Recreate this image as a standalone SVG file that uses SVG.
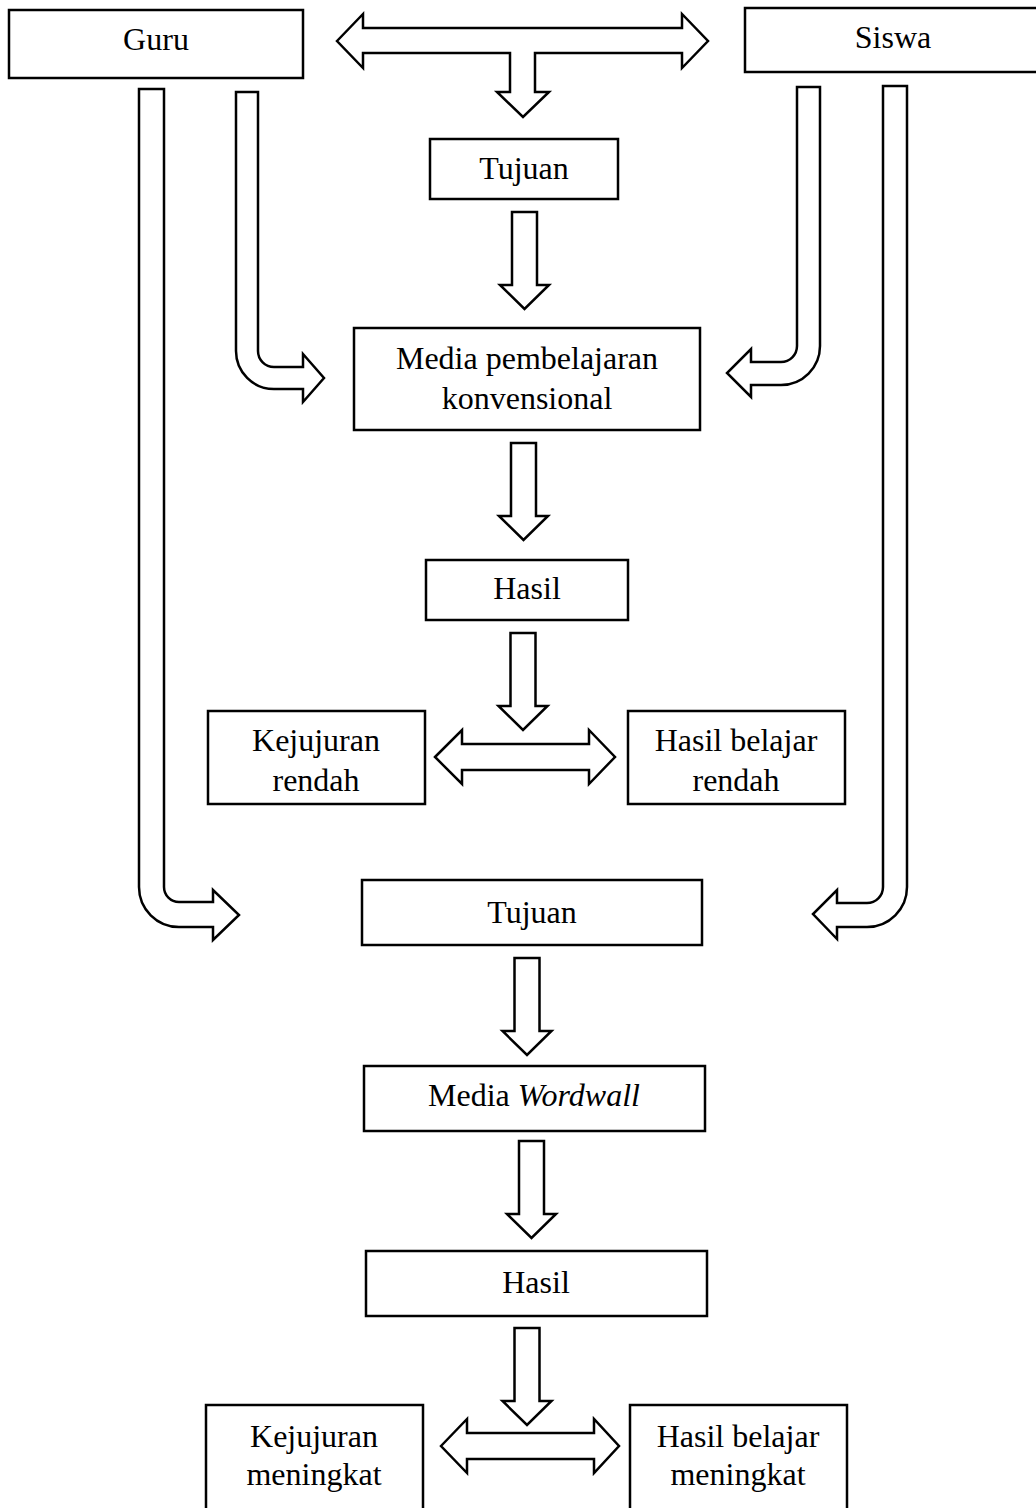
<svg xmlns="http://www.w3.org/2000/svg" width="1036" height="1508" viewBox="0 0 1036 1508">
<style>
.box{fill:#fff;stroke:#000;stroke-width:2.5}
.arr{fill:#fff;stroke:#000;stroke-width:2.5;stroke-linejoin:miter}
text{font-family:"Liberation Serif","Times New Roman",serif;font-size:32px;fill:#000;text-anchor:middle}
</style>
<defs>
<path id="down" d="M-12.5,0 H12.5 V73 H24.5 L0,97 L-24.5,73 H-12.5 Z"/>
</defs>
<rect width="1036" height="1508" fill="#fff"/>
<g id="connectors">
<path class="arr" d="M337,41 L363,14 L363,28 L682,28 L682,14 L708,41 L682,68 L682,53 L535,53 L535,92 L549,92 L523,117 L497,92 L510,92 L510,53 L363,53 L363,68 Z"/>
<path class="arr" d="M236,92 L258,92 L258,351 A16,16 0 0 0 274,367 L303,367 L303,354 L324,378 L303,402 L303,389 L274,389 A38,38 0 0 1 236,351 Z"/>
<path class="arr" d="M139,89 L164,89 L164,887 A15,15 0 0 0 179,902 L213,902 L213,890 L239,915 L213,940 L213,927 L179,927 A40,40 0 0 1 139,887 Z"/>
<path class="arr" d="M797,87 L820,87 L820,346 A39,39 0 0 1 781,385 L751,385 L751,397 L727,373 L751,349 L751,362 L781,362 A16,16 0 0 0 797,346 Z"/>
<path class="arr" d="M883,86 L907,86 L907,887 A40,40 0 0 1 867,927 L837,927 L837,939 L813,914 L837,890 L837,903 L867,903 A16,16 0 0 0 883,887 Z"/>
<use href="#down" class="arr" x="524.5" y="212"/>
<use href="#down" class="arr" x="523.5" y="443"/>
<use href="#down" class="arr" x="523" y="633"/>
<use href="#down" class="arr" x="527" y="958"/>
<use href="#down" class="arr" x="531.5" y="1141"/>
<use href="#down" class="arr" x="527" y="1328"/>
<path class="arr" d="M435,757 L462,730 L462,744 L589,744 L589,730 L615,757 L589,784 L589,770 L462,770 L462,784 Z"/>
<path class="arr" d="M441,1446 L467,1419 L467,1433 L594,1433 L594,1419 L619,1446 L594,1473 L594,1459 L467,1459 L467,1473 Z"/>
</g>
<g id="guru"><rect class="box" x="9" y="10" width="294" height="68"/><text x="156" y="50">Guru</text></g>
<g id="siswa"><rect class="box" x="745" y="8" width="296" height="64"/><text x="893" y="48">Siswa</text></g>
<g id="tujuan1"><rect class="box" x="430" y="139" width="188" height="60"/><text x="524" y="179">Tujuan</text></g>
<g id="media1"><rect class="box" x="354" y="328" width="346" height="102"/><text x="527" y="369">Media pembelajaran</text><text x="527" y="409">konvensional</text></g>
<g id="hasil1"><rect class="box" x="426" y="560" width="202" height="60"/><text x="527" y="599">Hasil</text></g>
<g id="kejujuran1"><rect class="box" x="208" y="711" width="217" height="93"/><text x="316" y="751">Kejujuran</text><text x="316" y="791">rendah</text></g>
<g id="hasilbelajar1"><rect class="box" x="628" y="711" width="217" height="93"/><text x="736" y="751">Hasil belajar</text><text x="736" y="791">rendah</text></g>
<g id="tujuan2"><rect class="box" x="362" y="880" width="340" height="65"/><text x="532" y="923">Tujuan</text></g>
<g id="media2"><rect class="box" x="364" y="1066" width="341" height="65"/><text x="534" y="1106">Media <tspan font-style="italic">Wordwall</tspan></text></g>
<g id="hasil2"><rect class="box" x="366" y="1251" width="341" height="65"/><text x="536" y="1293">Hasil</text></g>
<g id="kejujuran2"><rect class="box" x="206" y="1405" width="217" height="110"/><text x="314" y="1447">Kejujuran</text><text x="314" y="1485">meningkat</text></g>
<g id="hasilbelajar2"><rect class="box" x="630" y="1405" width="217" height="110"/><text x="738" y="1447">Hasil belajar</text><text x="738" y="1485">meningkat</text></g>
</svg>
